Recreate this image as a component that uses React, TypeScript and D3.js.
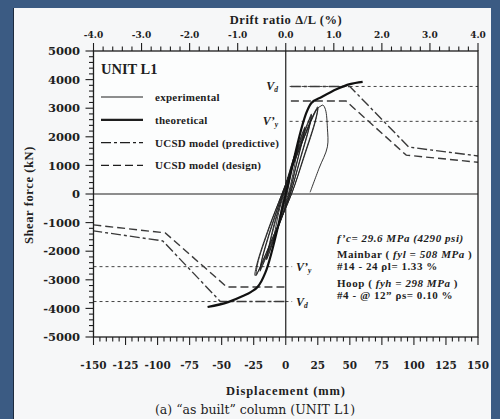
import * as d3 from "d3";

// displacement (mm) / shear (kN) pairs
const experimental: [number, number][] = [
  [0, 0], [2, 400], [4.5, 850], [5, 900], [4.2, 760], [2.5, 350], [1, 0], [-1.5, -400], [-4.5, -800], [-5, -850], [-4.2, -700], [-2.5, -300], [-1, 0],
  [3.5, 750], [9, 1600], [10, 1700], [8.8, 1450], [5.5, 680], [2, 0], [-3.5, -750], [-9, -1550], [-10, -1650], [-8.8, -1400], [-5.5, -650], [-1.5, 0],
  [5.5, 1150], [14, 2250], [15, 2350], [13.5, 2000], [8, 1000], [2.5, 0], [-5.5, -1100], [-14, -2200], [-15, -2300], [-13.5, -1950], [-8, -950], [-2, 0],
  [5, 1100], [14, 2200], [15, 2300], [13.5, 1950], [8, 950], [3, 0], [-5, -1050], [-14, -2150], [-15, -2250], [-13.5, -1900], [-8.5, -950], [-2, 0],
  [8, 1400], [19, 2700], [20, 2800], [18.5, 2400], [11, 1200], [3.5, 0], [-7, -1300], [-19, -2600], [-20, -2700], [-18.5, -2300], [-11, -1150], [-2.5, 0],
  [8, 1350], [19, 2650], [20, 2750], [18.5, 2350], [11, 1150], [3.5, 0], [-7, -1250], [-19, -2550], [-20, -2650], [-18.5, -2250], [-11, -1100], [-2.5, 0],
  [10, 1550], [23.5, 2950], [25, 3050], [23.5, 2650], [14, 1300], [4.5, 0], [-8, -1300], [-21.5, -2700], [-23, -2850], [-22, -2450], [-13, -1200], [-3, 0],
  [10, 1500], [23.5, 2900], [25, 3000], [23.5, 2600], [14, 1250], [4.5, 0], [-8.5, -1350], [-22, -2750], [-24, -2850], [-22.5, -2450], [-13, -1150], [-3, 0],
  [11, 1600], [24, 2950], [27.5, 3080], [29, 3110], [31, 2950], [32.5, 2300], [32.5, 1650], [26, 900], [19, 60],
];

const theoretical: [number, number][] = [
  [-61, -3950], [-45, -3780], [-33.5, -3570], [-27, -3420], [-22, -3250], [-19, -3050], [-16, -2760],
  [0, 0],
  [17, 2940], [20, 3180], [28, 3390], [40, 3670], [50, 3840], [60, 3920],
];

const predictivePos: [number, number][] = [[4, 3760], [50, 3760], [96, 1640], [150, 1330]];
const predictiveNeg: [number, number][] = [[-1, -3760], [-51, -3760], [-96, -1640], [-150, -1290]];
const designPos: [number, number][] = [[4, 3250], [47, 3250], [94, 1360], [150, 1110]];
const designNeg: [number, number][] = [[-1, -3250], [-46, -3250], [-94, -1360], [-150, -1080]];

const Vd = 3760;
const Vy = 2540;

const dispTicks = [-150, -125, -100, -75, -50, -25, 0, 25, 50, 75, 100, 125, 150];
const shearTicks = [5000, 4000, 3000, 2000, 1000, 0, -1000, -2000, -3000, -4000, -5000];
const driftTicks = [-4, -3, -2, -1, 0, 1, 2, 3, 4];

const legendItems = [
  { label: "experimental", width: 1, dash: "" },
  { label: "theoretical", width: 2.2, dash: "" },
  { label: "UCSD model (predictive)", width: 1.2, dash: "10,3,3,3" },
  { label: "UCSD model (design)", width: 1.2, dash: "8,4" },
];

const W = 500;
const H = 419;
const P = { left: 93.5, right: 478, top: 51, bottom: 337 };
const INK = "#1e1e1e";
const SERIF = "'Liberation Serif', 'Times New Roman', serif";
const NUM = "'DejaVu Serif', serif";

export default function App() {
  const x = d3.scaleLinear().domain([-150, 150]).range([P.left, P.right]);
  const y = d3.scaleLinear().domain([-5000, 5000]).range([P.bottom, P.top]);
  const xd = d3.scaleLinear().domain([-4, 4]).range([P.left, P.right]);

  const line = d3.line<[number, number]>().x((d) => x(d[0])).y((d) => y(d[1]));
  const expLine = d3
    .line<[number, number]>()
    .x((d) => x(d[0]))
    .y((d) => y(d[1]))
    .curve(d3.curveCatmullRom.alpha(0.5));
  const theoLine = d3
    .line<[number, number]>()
    .x((d) => x(d[0]))
    .y((d) => y(d[1]))
    .curve(d3.curveMonotoneX);

  const dispMinor = x.ticks(60);
  const shearMinor = y.ticks(50);
  const driftMinor = xd.ticks(40);

  return (
    <div style={{ position: "absolute", left: 0, top: 0 }}>
      <svg width={W} height={H} style={{ display: "block" }}>
        <rect width={W} height={H} fill="#3b5b83" />
        <rect x={13} y={8} width={478} height={H - 8} fill="#1d2b3e" />
        <rect x={14} y={8} width={477} height={H - 8} fill="#f6f7f8" />
        <rect x={P.left} y={P.top} width={P.right - P.left} height={P.bottom - P.top} fill="#fcfdfd" />

        {/* reference lines Vd and V'y */}
        <g stroke="#444" strokeWidth={1} strokeDasharray="3,3" fill="none">
          <line x1={x(3)} x2={x(150)} y1={y(Vd)} y2={y(Vd)} />
          <line x1={x(3)} x2={x(150)} y1={y(Vy)} y2={y(Vy)} />
          <line x1={x(-150)} x2={x(5)} y1={y(-Vd)} y2={y(-Vd)} />
          <line x1={x(-150)} x2={x(5)} y1={y(-Vy)} y2={y(-Vy)} />
        </g>

        {/* UCSD envelopes */}
        <g stroke="#3a3a3a" strokeWidth={1.4} fill="none">
          <path d={line(predictivePos) ?? ""} strokeDasharray="10,3,3,3" />
          <path d={line(predictiveNeg) ?? ""} strokeDasharray="10,3,3,3" />
          <path d={line(designPos) ?? ""} strokeDasharray="8,4" />
          <path d={line(designNeg) ?? ""} strokeDasharray="8,4" />
        </g>

        {/* zero lines */}
        <line x1={P.left} x2={P.right} y1={y(0)} y2={y(0)} stroke={INK} strokeWidth={1.2} />
        <line x1={x(0)} x2={x(0)} y1={P.top} y2={P.bottom} stroke={INK} strokeWidth={1.2} />

        <path d={expLine(experimental) ?? ""} fill="none" stroke={INK} strokeWidth={0.9} strokeLinejoin="round" />
        <path d={theoLine(theoretical) ?? ""} fill="none" stroke="#111" strokeWidth={2.2} />

        {/* frame */}
        <rect x={P.left} y={P.top} width={P.right - P.left} height={P.bottom - P.top} fill="none" stroke={INK} strokeWidth={1.3} />

        {/* ticks */}
        <g stroke={INK} strokeWidth={1.1}>
          {dispMinor.map((t) => (
            <line key={"bm" + t} x1={x(t)} x2={x(t)} y1={P.bottom} y2={P.bottom + (t % 25 === 0 ? 8 : 4.5)} />
          ))}
          {shearMinor.map((t) => (
            <line key={"lm" + t} x1={P.left} x2={P.left - (t % 1000 === 0 ? 8 : 4.5)} y1={y(t)} y2={y(t)} />
          ))}
          {driftMinor.map((t) => (
            <line key={"tm" + t} x1={xd(t)} x2={xd(t)} y1={P.top} y2={P.top - (Math.abs(t % 1) < 1e-6 ? 8 : 4.5)} />
          ))}
        </g>

        <g fontFamily={NUM} fontWeight="bold" fill={INK}>
          {dispTicks.map((t) => (
            <text key={"bl" + t} x={x(t)} y={369} fontSize={10.5} textAnchor="middle">
              {t}
            </text>
          ))}
          {shearTicks.map((t) => (
            <text key={"ll" + t} x={80} y={y(t) + 4.2} fontSize={11.5} textAnchor="end">
              {t}
            </text>
          ))}
          {driftTicks.map((t) => (
            <text key={"tl" + t} x={xd(t)} y={38} fontSize={9} textAnchor="middle">
              {t.toFixed(1)}
            </text>
          ))}
        </g>

        {/* axis titles */}
        <g fontFamily={SERIF} fill={INK}>
          <text x={286} y={24} fontSize={12.5} fontWeight="bold" textAnchor="middle" letterSpacing={0.6}>
            Drift ratio Δ/L (%)
          </text>
          <text x={286} y={395} fontSize={12.5} fontWeight="bold" textAnchor="middle" letterSpacing={0.9}>
            Displacement (mm)
          </text>
          <text x={255} y={414} fontFamily={NUM} fontSize={12.5} textAnchor="middle">
            (a) “as built” column (UNIT L1)
          </text>
          <text
            transform={`translate(33,195) rotate(-90)`}
            fontSize={12.5}
            fontWeight="bold"
            textAnchor="middle"
            letterSpacing={0.6}
          >
            Shear force (kN)
          </text>
        </g>

        {/* V labels */}
        <g fontFamily={SERIF} fontStyle="italic" fontWeight="bold" fontSize={12} fill={INK}>
          <text x={278} y={y(Vd) + 4} textAnchor="end">
            V<tspan fontSize={7.5} dy={2}>d</tspan>
          </text>
          <text x={278} y={y(Vy) + 4} textAnchor="end">
            V’<tspan fontSize={7.5} dy={2}>y</tspan>
          </text>
          <text x={296} y={y(-Vy) + 4}>
            V’<tspan fontSize={7.5} dy={2}>y</tspan>
          </text>
          <text x={296} y={y(-Vd) + 4}>
            V<tspan fontSize={7.5} dy={2}>d</tspan>
          </text>
        </g>

        {/* legend */}
        <g fontFamily={SERIF} fill={INK}>
          <text x={101} y={74} fontSize={14.5} fontWeight="bold">
            UNIT L1
          </text>
          {legendItems.map((it, i) => (
            <g key={it.label} transform={`translate(101,${97 + i * 22.8})`}>
              <line x1={0} x2={42} stroke={INK} strokeWidth={it.width} strokeDasharray={it.dash || undefined} />
              <text x={54} y={4} fontSize={11} fontWeight="bold" letterSpacing={0.25}>
                {it.label}
              </text>
            </g>
          ))}
        </g>

        {/* specimen notes */}
        <g fontFamily={SERIF} fontWeight="bold" fontSize={11} fill={INK} letterSpacing={0.55}>
          <text x={337} y={242} fontStyle="italic">
            f’c= 29.6 MPa (4290 psi)
          </text>
          <text x={337} y={258}>
            Mainbar ( <tspan fontStyle="italic">fyl = 508 MPa</tspan> )
          </text>
          <text x={337} y={270}>
            #14 - 24  ρl= 1.33 %
          </text>
          <text x={337} y={287}>
            Hoop  ( <tspan fontStyle="italic">fyh = 298 MPa</tspan> )
          </text>
          <text x={337} y={299}>
            #4 - @ 12” ρs= 0.10 %
          </text>
        </g>
      </svg>
    </div>
  );
}
